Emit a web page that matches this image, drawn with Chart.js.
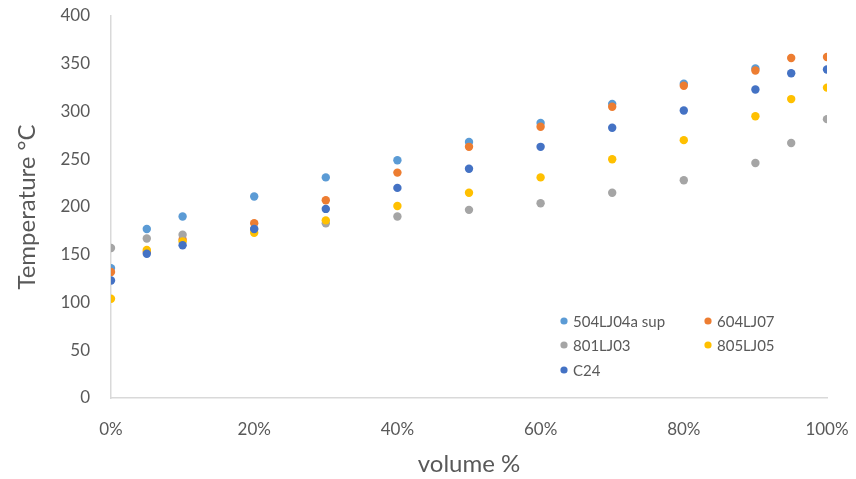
<!DOCTYPE html>
<html>
<head>
<meta charset="utf-8">
<script src="https://cdn.jsdelivr.net/npm/chart.js@4/dist/chart.umd.min.js"></script>
<style>
  html, body { margin: 0; padding: 0; background: #ffffff; }
  #wrap { width: 856px; height: 479px; }
</style>
</head>
<body>
<div id="wrap"><canvas id="c" width="856" height="479"></canvas></div>
<script>
// Volume fraction (0..1) at which each temperature was taken
const volume = [0, 0.05, 0.10, 0.20, 0.30, 0.40, 0.50, 0.60, 0.70, 0.80, 0.90, 0.95, 1.00];

// Temperatures (°C) per sample; null where no reading exists
const s504LJ04aSup = [136, 177, 190, 211, 231, 249, 268, 288, 308, 329, 345, null, null];
const s604LJ07     = [132, 153, 166, 183, 207, 236, 263, 284, 305, 327, 343, 356, 357];
const s801LJ03     = [157, 167, 171, 177, 183, 190, 197, 204, 215, 228, 246, 267, 292];
const s805LJ05     = [104, 155, 164, 173, 186, 201, 215, 231, 250, 270, 295, 313, 325];
const sC24         = [123, 151, 160, 177, 198, 220, 240, 263, 283, 301, 323, 340, 344];

const seriesNames  = ['504LJ04a sup', '604LJ07', '801LJ03', '805LJ05', 'C24'];
const seriesColors = ['#5B9BD5', '#ED7D31', '#A5A5A5', '#FFC000', '#4472C4'];
const seriesValues = [s504LJ04aSup, s604LJ07, s801LJ03, s805LJ05, sC24];

const yTicks = [0, 50, 100, 150, 200, 250, 300, 350, 400];
const xTicks = [0, 0.2, 0.4, 0.6, 0.8, 1.0];

const FONT = 'Lato, "Open Sans", sans-serif';
const TEXT = '#595959';

const datasets = seriesNames.map((name, i) => ({
  label: name,
  data: volume.map((v, k) => seriesValues[i][k] === null ? null : { x: v, y: seriesValues[i][k] })
              .filter(p => p !== null),
  backgroundColor: seriesColors[i],
  borderColor: seriesColors[i],
  pointRadius: 4.2,
  pointBorderWidth: 0,
  // later series sit on top of earlier ones
  order: seriesNames.length - i
}));

// Two-column legend drawn inside the plot area
const insideLegend = {
  id: 'insideLegend',
  afterDatasetsDraw(chart) {
    const ctx = chart.ctx;
    const cols = [564, 708];
    const rows = [321, 345, 370];
    ctx.save();
    ctx.font = '15px ' + FONT;
    ctx.textBaseline = 'middle';
    ctx.textAlign = 'left';
    seriesNames.forEach((name, i) => {
      const x = cols[i % 2];
      const y = rows[Math.floor(i / 2)];
      ctx.fillStyle = seriesColors[i];
      ctx.beginPath();
      ctx.arc(x, y, 3.6, 0, Math.PI * 2);
      ctx.fill();
      ctx.fillStyle = TEXT;
      ctx.fillText(name, x + 9, y + 1);
    });
    ctx.restore();
  }
};

new Chart(document.getElementById('c'), {
  type: 'scatter',
  data: { datasets },
  plugins: [insideLegend],
  options: {
    responsive: false,
    animation: false,
    layout: { padding: { left: 0, right: 29, top: 16, bottom: 0 } },
    plugins: {
      legend: { display: false },
      tooltip: { enabled: false }
    },
    scales: {
      x: {
        type: 'linear',
        min: 0, max: 1,
        afterBuildTicks(axis) { axis.ticks = xTicks.map(v => ({ value: v })); },
        afterFit(axis) { axis.height = 81; axis.paddingLeft = 0; axis.paddingRight = 0; },
        grid: { display: false, drawTicks: false },
        border: { display: true, color: '#D9D9D9', width: 1.5 },
        ticks: {
          padding: 21,
          color: TEXT,
          font: { family: FONT, size: 17 },
          maxRotation: 0,
          callback: v => Math.round(v * 100) + '%'
        },
        title: {
          display: true,
          text: 'volume %',
          color: TEXT,
          font: { family: FONT, size: 24 },
          padding: { top: 8, bottom: 0 }
        }
      },
      y: {
        min: 0, max: 400,
        afterBuildTicks(axis) { axis.ticks = yTicks.map(v => ({ value: v })); },
        afterFit(axis) { axis.width = 111; axis.paddingTop = 0; axis.paddingBottom = 0; },
        grid: { display: false, drawTicks: false },
        border: { display: true, color: '#D9D9D9', width: 1.5 },
        ticks: {
          padding: 21,
          color: TEXT,
          font: { family: FONT, size: 17 }
        },
        title: {
          display: true,
          text: 'Temperature °C',
          color: TEXT,
          font: { family: FONT, size: 24 },
          padding: { top: 13, bottom: 0 }
        }
      }
    }
  }
});
</script>
</body>
</html>
